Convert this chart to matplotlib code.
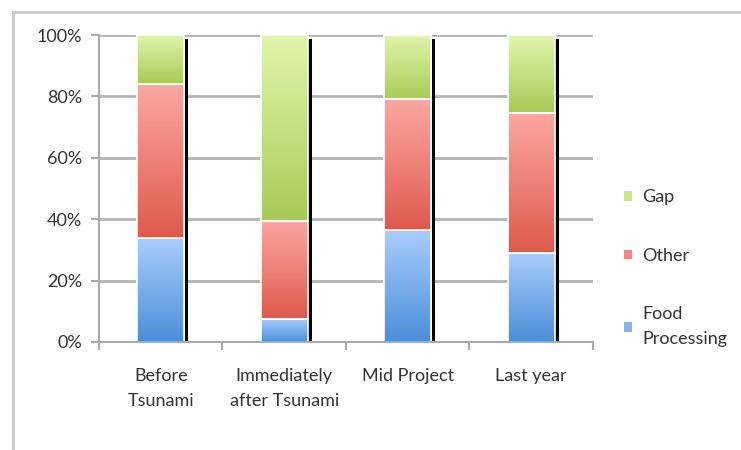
import matplotlib.pyplot as plt
import numpy as np
from matplotlib.colors import LinearSegmentedColormap
from matplotlib.lines import Line2D
from matplotlib.patches import Patch

# data (percent of total)
categories = ['Before\nTsunami', 'Immediately\nafter Tsunami', 'Mid Project', 'Last year']
food = [34, 7.5, 36.5, 29]
other = [50, 32, 42.5, 45.5]
gap = [16, 60.5, 21, 25.5]

series = [('Food\nProcessing', food, '#a9cefd', '#4a8fd8'),
          ('Other', other, '#fca7a2', '#df5a4c'),
          ('Gap', gap, '#e0f6aa', '#a8cb58')]

plt.rcParams['font.family'] = ['Lato', 'DejaVu Sans']
fig = plt.figure(figsize=(7.41, 4.5), dpi=100)
ax = fig.add_axes([0.1336, 0.24, 0.6664, 0.6822])

x = np.arange(len(categories))
width = 0.38
grad = np.linspace(0, 1, 100).reshape(-1, 1)

# shadow to the right of each stack
ax.bar(x + width / 2 + 0.019, [98.8] * len(x), width=0.03, color='black', zorder=2)

bottom = np.zeros(len(x))
handles = []
for name, vals, ctop, cbot in series:
    cmap = LinearSegmentedColormap.from_list(name, [cbot, ctop])
    bars = ax.bar(x, vals, width, bottom=bottom, color='none', edgecolor='white',
                  linewidth=1.2, zorder=4)
    for b in bars:
        x0, y0 = b.get_x(), b.get_y()
        ax.imshow(grad, cmap=cmap, origin='lower', aspect='auto', zorder=3,
                  extent=[x0, x0 + b.get_width(), y0, y0 + b.get_height()])
    handles.append(Patch(facecolor=cmap(0.6), label=name))
    bottom += np.array(vals)

ax.set_xlim(-0.5, len(x) - 0.5)
ax.set_ylim(0, 100)
ax.set_yticks(range(0, 101, 20))
ax.set_yticklabels(['%d%%' % v for v in range(0, 101, 20)])
ax.set_xticks(x)
ax.set_xticklabels(categories, linespacing=1.65)
ax.set_xticks(np.arange(-0.5, len(x)), minor=True)
ax.tick_params(axis='x', which='major', length=0, pad=19, labelsize=13, labelcolor='#333333')
ax.tick_params(axis='x', which='minor', length=6, width=1.5, color='#aaaaaa')
ax.tick_params(axis='y', length=6, width=1.5, color='#aaaaaa', labelsize=13,
               labelcolor='#333333', pad=6)
ax.yaxis.grid(True, color='#b4b4b4', linewidth=2)
ax.set_axisbelow(True)
for s in ['top', 'right']:
    ax.spines[s].set_visible(False)
for s in ['left', 'bottom']:
    ax.spines[s].set_color('#aaaaaa')
    ax.spines[s].set_linewidth(1.5)
ax.spines['bottom'].set_zorder(5)

leg = ax.legend(handles=handles[::-1], loc='upper left', bbox_to_anchor=(1.03, 0.55),
                frameon=False, fontsize=13, labelspacing=2.35, handlelength=0.45,
                handleheight=0.45, handletextpad=0.55, labelcolor='#333333')
for t in leg.get_texts():
    t.set_linespacing(1.7)

# outer frame
fig.add_artist(Line2D([13 / 741, 13 / 741], [0, 1 - 12 / 450], color='#c8c8c8', lw=2))
fig.add_artist(Line2D([13 / 741, 1], [1 - 12 / 450, 1 - 12 / 450], color='#c8c8c8', lw=2))

fig.savefig('out.png', dpi=100)
